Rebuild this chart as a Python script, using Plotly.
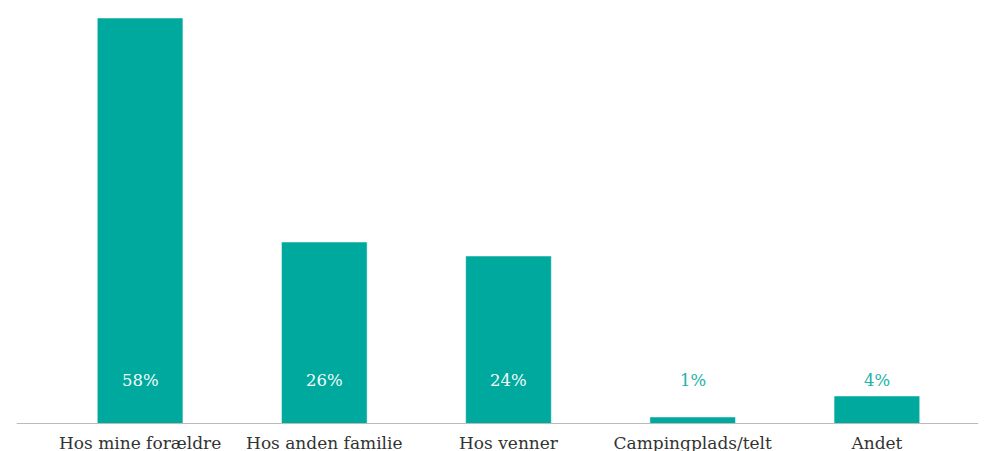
import plotly.graph_objects as go

categories = ["Hos mine forældre", "Hos anden familie", "Hos venner", "Campingplads/telt", "Andet"]
values = [58, 26, 24, 1, 4]
labels = ["58%", "26%", "24%", "1%", "4%"]

TEAL = "#00A99D"
LABEL_Y = 6.2

fig = go.Figure()
fig.add_trace(go.Bar(
    x=categories, y=values, width=0.465,
    marker_color=TEAL, hoverinfo="skip",
))
for cat, val, lab in zip(categories, values, labels):
    fig.add_annotation(
        x=cat, y=LABEL_Y, text=lab, showarrow=False,
        font=dict(family="DejaVu Serif", size=16.5,
                  color="#F4FBFA" if val > LABEL_Y else "#22B2A7"),
    )

# grey baseline, a bit wider than the plot area
fig.add_shape(type="line", xref="paper", yref="y",
              x0=-0.034, x1=1.01, y0=0, y1=0,
              line=dict(color="#BBBBBB", width=2))

# the page body adds an 8px margin, so the figure is drawn 8px smaller
fig.update_layout(
    template="plotly_white",
    width=984, height=443,
    margin=dict(l=40, r=23, t=10, b=27),
    plot_bgcolor="white", paper_bgcolor="white",
    showlegend=False,
    font=dict(family="DejaVu Serif", size=17, color="#333333"),
    bargap=0.5,
)
fig.update_xaxes(showgrid=False, showline=False, ticks="",
                 ticklabelstandoff=7, automargin=False,
                 tickfont=dict(size=17, color="#333333"))
fig.update_yaxes(visible=False, range=[0, 58], showgrid=False)

fig.write_html("out.html")
